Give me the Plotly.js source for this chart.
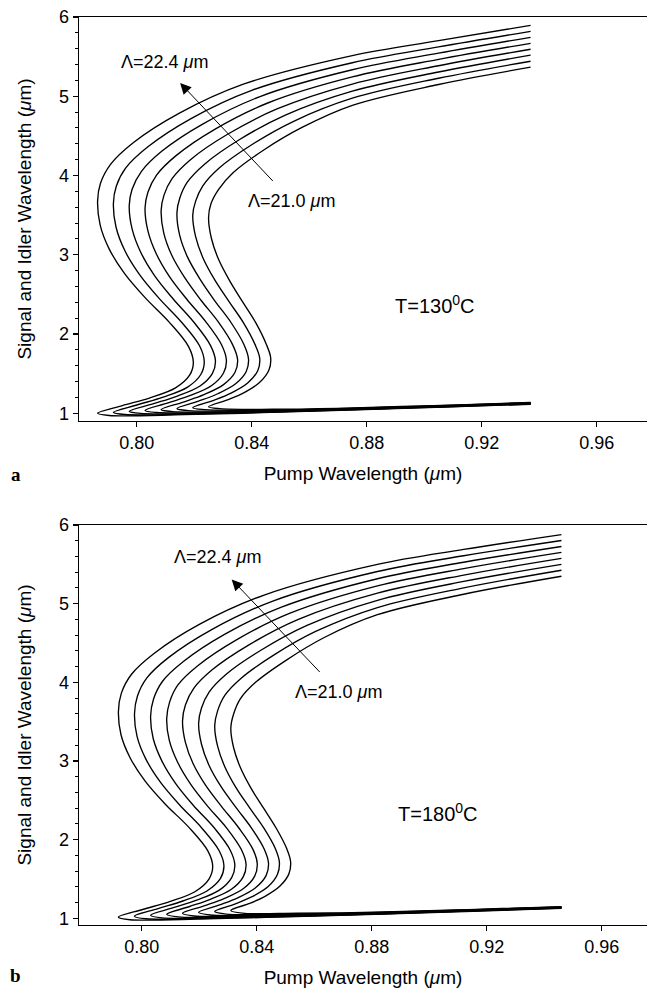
<!DOCTYPE html>
<html>
<head>
<meta charset="utf-8">
<script src="https://cdn.plot.ly/plotly-3.0.1.min.js"></script>
<style>html,body{margin:0;padding:0;background:#fff;}#chart{width:647px;height:989px;}</style>
</head>
<body>
<div id="chart"></div>
<script>
// Grating periods (µm), outer curve first
const periods = ['22.4', '22.2', '22.0', '21.8', '21.6', '21.4', '21.2', '21.0'];

// Panel a (T = 130 °C): pump wavelength (x) and signal/idler wavelength (y)
const pumpA = [
  [0.937,0.905,0.875,0.8371,0.8147,0.7989,0.7909,0.7874,0.7864,0.7873,0.7905,0.7958,0.8030,0.8113,0.8180,0.8197,0.8184,0.8135,0.8044,0.7950,0.7864,0.7904,0.8165,0.8466,0.8768,0.9069,0.937],
  [0.937,0.905,0.875,0.8400,0.8189,0.8039,0.7962,0.7929,0.7919,0.7928,0.7959,0.8010,0.8078,0.8156,0.8219,0.8235,0.8223,0.8177,0.8092,0.8003,0.7919,0.7959,0.8209,0.8499,0.8790,0.9080,0.937],
  [0.937,0.905,0.875,0.8429,0.8231,0.8088,0.8016,0.7984,0.7974,0.7984,0.8014,0.8062,0.8127,0.8199,0.8257,0.8274,0.8263,0.8219,0.8139,0.8056,0.7974,0.8014,0.8253,0.8532,0.8812,0.9091,0.937],
  [0.937,0.905,0.875,0.8458,0.8273,0.8138,0.8069,0.8039,0.8029,0.8039,0.8068,0.8114,0.8175,0.8242,0.8296,0.8312,0.8302,0.8261,0.8187,0.8109,0.8029,0.8069,0.8297,0.8565,0.8834,0.9102,0.937],
  [0.937,0.905,0.875,0.8488,0.8316,0.8187,0.8123,0.8095,0.8085,0.8094,0.8122,0.8167,0.8223,0.8285,0.8334,0.8351,0.8342,0.8302,0.8234,0.8162,0.8085,0.8125,0.8342,0.8599,0.8856,0.9113,0.937],
  [0.937,0.905,0.875,0.8517,0.8358,0.8237,0.8176,0.8150,0.8140,0.8149,0.8176,0.8219,0.8271,0.8328,0.8373,0.8389,0.8381,0.8344,0.8282,0.8215,0.8140,0.8180,0.8386,0.8632,0.8878,0.9124,0.937],
  [0.937,0.905,0.875,0.8546,0.8400,0.8286,0.8230,0.8205,0.8195,0.8205,0.8231,0.8271,0.8320,0.8371,0.8411,0.8428,0.8421,0.8386,0.8330,0.8268,0.8195,0.8235,0.8430,0.8665,0.8900,0.9135,0.937],
  [0.937,0.905,0.875,0.8575,0.8442,0.8336,0.8285,0.8258,0.8250,0.8260,0.8285,0.8323,0.8368,0.8414,0.8450,0.8466,0.8460,0.8428,0.8377,0.8321,0.8250,0.8290,0.8474,0.8698,0.8922,0.9146,0.937]
];
const waveA = [
  [5.894,5.702,5.513,5.152,4.784,4.416,4.140,3.901,3.680,3.374,3.068,2.762,2.456,2.150,1.844,1.640,1.480,1.320,1.192,1.096,1.000,0.972,0.982,1.010,1.042,1.078,1.114],
  [5.819,5.623,5.423,5.074,4.718,4.362,4.095,3.864,3.650,3.350,3.050,2.749,2.449,2.149,1.849,1.649,1.489,1.330,1.203,1.107,1.011,0.984,0.992,1.017,1.048,1.082,1.117],
  [5.743,5.544,5.334,4.996,4.652,4.308,4.050,3.826,3.620,3.326,3.031,2.737,2.442,2.148,1.853,1.657,1.499,1.340,1.214,1.118,1.023,0.997,1.001,1.025,1.054,1.087,1.120],
  [5.668,5.465,5.244,4.918,4.586,4.254,4.005,3.789,3.590,3.301,3.013,2.724,2.435,2.147,1.858,1.666,1.508,1.350,1.224,1.130,1.034,1.009,1.011,1.032,1.060,1.091,1.123],
  [5.593,5.385,5.154,4.840,4.520,4.200,3.960,3.752,3.560,3.277,2.994,2.711,2.429,2.146,1.863,1.674,1.517,1.361,1.235,1.141,1.046,1.021,1.021,1.039,1.067,1.095,1.126],
  [5.518,5.306,5.064,4.762,4.454,4.146,3.915,3.715,3.530,3.253,2.976,2.699,2.422,2.145,1.868,1.683,1.527,1.371,1.246,1.152,1.058,1.033,1.031,1.046,1.073,1.099,1.129],
  [5.442,5.227,4.975,4.684,4.388,4.092,3.870,3.677,3.500,3.229,2.957,2.686,2.415,2.144,1.872,1.691,1.536,1.381,1.257,1.163,1.070,1.046,1.040,1.054,1.079,1.104,1.132],
  [5.367,5.148,4.885,4.606,4.322,4.038,3.825,3.640,3.470,3.205,2.939,2.674,2.408,2.143,1.877,1.700,1.546,1.391,1.267,1.175,1.082,1.058,1.050,1.061,1.085,1.108,1.135]
];

// Panel b (T = 180 °C)
const pumpB = [
  [0.946,0.912,0.882,0.8426,0.8202,0.8044,0.7964,0.7929,0.7919,0.7928,0.7960,0.8012,0.8083,0.8165,0.8230,0.8247,0.8234,0.8185,0.8095,0.8003,0.7919,0.7959,0.8227,0.8535,0.8843,0.9151,0.946],
  [0.946,0.912,0.882,0.8456,0.8245,0.8094,0.8018,0.7985,0.7975,0.7984,0.8015,0.8065,0.8132,0.8208,0.8269,0.8286,0.8274,0.8227,0.8143,0.8057,0.7975,0.8015,0.8272,0.8569,0.8865,0.9162,0.946],
  [0.946,0.912,0.882,0.8486,0.8288,0.8145,0.8072,0.8041,0.8031,0.8040,0.8070,0.8117,0.8180,0.8252,0.8308,0.8324,0.8313,0.8270,0.8191,0.8110,0.8031,0.8071,0.8316,0.8602,0.8888,0.9174,0.946],
  [0.946,0.912,0.882,0.8516,0.8331,0.8195,0.8126,0.8097,0.8087,0.8096,0.8125,0.8170,0.8229,0.8295,0.8347,0.8363,0.8353,0.8312,0.8239,0.8164,0.8087,0.8127,0.8361,0.8636,0.8910,0.9185,0.946],
  [0.946,0.912,0.882,0.8545,0.8373,0.8245,0.8181,0.8152,0.8142,0.8152,0.8179,0.8222,0.8278,0.8338,0.8387,0.8402,0.8393,0.8354,0.8288,0.8217,0.8142,0.8182,0.8406,0.8669,0.8933,0.9196,0.946],
  [0.946,0.912,0.882,0.8575,0.8416,0.8295,0.8235,0.8208,0.8198,0.8208,0.8234,0.8275,0.8327,0.8382,0.8426,0.8441,0.8433,0.8396,0.8336,0.8271,0.8198,0.8238,0.8451,0.8703,0.8955,0.9207,0.946],
  [0.946,0.912,0.882,0.8605,0.8459,0.8346,0.8289,0.8264,0.8254,0.8264,0.8289,0.8327,0.8375,0.8425,0.8465,0.8479,0.8472,0.8439,0.8384,0.8324,0.8254,0.8294,0.8495,0.8736,0.8978,0.9219,0.946],
  [0.946,0.912,0.882,0.8635,0.8502,0.8396,0.8343,0.8320,0.8310,0.8320,0.8344,0.8380,0.8424,0.8468,0.8504,0.8518,0.8512,0.8481,0.8432,0.8378,0.8310,0.8350,0.8540,0.8770,0.9000,0.9230,0.946]
];
const waveB = [
  [5.879,5.690,5.500,5.110,4.740,4.370,4.100,3.860,3.630,3.334,3.039,2.744,2.448,2.153,1.857,1.660,1.499,1.338,1.209,1.112,1.015,0.982,0.994,1.021,1.053,1.089,1.127],
  [5.803,5.609,5.409,5.033,4.674,4.317,4.056,3.823,3.600,3.310,3.021,2.731,2.441,2.152,1.862,1.669,1.508,1.348,1.220,1.123,1.027,0.994,1.004,1.029,1.059,1.094,1.130],
  [5.727,5.527,5.317,4.956,4.609,4.264,4.011,3.786,3.570,3.286,3.002,2.719,2.434,2.151,1.866,1.677,1.518,1.359,1.231,1.135,1.039,1.006,1.014,1.036,1.065,1.098,1.133],
  [5.652,5.446,5.226,4.879,4.543,4.211,3.967,3.749,3.540,3.262,2.984,2.706,2.427,2.150,1.871,1.686,1.527,1.369,1.242,1.147,1.051,1.018,1.024,1.044,1.071,1.103,1.136],
  [5.576,5.364,5.134,4.801,4.477,4.159,3.923,3.711,3.510,3.237,2.965,2.693,2.421,2.148,1.876,1.694,1.537,1.379,1.253,1.158,1.064,1.030,1.034,1.051,1.078,1.108,1.140],
  [5.500,5.283,5.043,4.724,4.411,4.106,3.879,3.674,3.480,3.213,2.947,2.680,2.414,2.147,1.881,1.703,1.546,1.389,1.264,1.170,1.076,1.042,1.044,1.059,1.084,1.113,1.143],
  [5.425,5.201,4.951,4.647,4.346,4.053,3.834,3.637,3.450,3.189,2.928,2.668,2.407,2.146,1.885,1.711,1.556,1.400,1.275,1.181,1.088,1.054,1.054,1.066,1.090,1.117,1.146],
  [5.349,5.120,4.860,4.570,4.280,4.000,3.790,3.600,3.420,3.165,2.910,2.655,2.400,2.145,1.890,1.720,1.565,1.410,1.286,1.193,1.100,1.066,1.064,1.074,1.096,1.122,1.149]
];

const xTickVals = [0.80, 0.84, 0.88, 0.92, 0.96];
const xTickText = ['0.80', '0.84', '0.88', '0.92', '0.96'];
const yTickVals = [1, 2, 3, 4, 5, 6];
const yTickText = ['1', '2', '3', '4', '5', '6'];
const temps = ['T=130<sup>0</sup>C', 'T=180<sup>0</sup>C'];

const FONT = 'Liberation Sans, Arial, Helvetica, sans-serif';
const traces = [];
function addPanel(px, py, xa, ya) {
  for (let i = 0; i < periods.length; i++) {
    traces.push({
      x: px[i], y: py[i], xaxis: xa, yaxis: ya,
      type: 'scatter', mode: 'lines', name: 'Λ=' + periods[i] + ' μm',
      line: {color: '#000', width: 1.35, shape: 'spline', smoothing: 1},
      hoverinfo: 'skip', showlegend: false
    });
  }
}
addPanel(pumpA, waveA, 'x', 'y');
addPanel(pumpB, waveB, 'x2', 'y2');

function xAxis(range, anchor) {
  return {
    domain: [0, 1], anchor: anchor, range: range,
    tickvals: xTickVals, ticktext: xTickText,
    ticks: 'outside', ticklen: 5, tickwidth: 1.2, tickcolor: '#000',
    showline: true, linewidth: 1.3, linecolor: '#000', mirror: true,
    showgrid: false, zeroline: false,
    tickfont: {family: FONT, size: 18, color: '#000'},
    title: {text: 'Pump Wavelength (<i>μ</i>m)', font: {family: FONT, size: 19, color: '#000'}, standoff: 14}
  };
}
function yAxis(range, domain, anchor) {
  return {
    domain: domain, anchor: anchor, range: range,
    tickvals: yTickVals, ticktext: yTickText,
    ticks: 'outside', ticklen: 5, tickwidth: 1.2, tickcolor: '#000',
    minor: {dtick: 0.2, tick0: 0, ticks: 'outside', ticklen: 3, tickwidth: 1, tickcolor: '#000', showgrid: false},
    showline: true, linewidth: 1.3, linecolor: '#000', mirror: false,
    showgrid: false, zeroline: false,
    tickfont: {family: FONT, size: 18, color: '#000'},
    title: {text: 'Signal and Idler Wavelength (<i>μ</i>m)', font: {family: FONT, size: 19, color: '#000'}, standoff: 22}
  };
}

const txt = (size) => ({family: FONT, size: size || 18, color: '#000'});
const annotations = [
  // panel a: label of the 21.0 µm curve, with the arrow pointing towards the 22.4 µm curve
  {xref: 'x', yref: 'y', axref: 'x', ayref: 'y', x: 0.8151, y: 5.168, ax: 0.8540, ay: 3.675,
   text: 'Λ=' + periods[7] + ' <i>μ</i>m', font: txt(), showarrow: true,
   arrowhead: 2, arrowsize: 2.2, arrowwidth: 1, arrowcolor: '#000', startstandoff: 12},
  {xref: 'x', yref: 'y', x: 0.8097, y: 5.434, text: 'Λ=' + periods[0] + ' <i>μ</i>m', showarrow: false, font: txt()},
  {xref: 'x', yref: 'y', x: 0.9038, y: 2.371, text: temps[0], showarrow: false, font: txt(20)},
  // panel b
  {xref: 'x2', yref: 'y2', axref: 'x2', ayref: 'y2', x: 0.8313, y: 5.308, ax: 0.8686, ay: 3.875,
   text: 'Λ=' + periods[7] + ' <i>μ</i>m', font: txt(), showarrow: true,
   arrowhead: 2, arrowsize: 2.2, arrowwidth: 1, arrowcolor: '#000', startstandoff: 12},
  {xref: 'x2', yref: 'y2', x: 0.8265, y: 5.591, text: 'Λ=' + periods[0] + ' <i>μ</i>m', showarrow: false, font: txt()},
  {xref: 'x2', yref: 'y2', x: 0.9032, y: 2.351, text: temps[1], showarrow: false, font: txt(20)},
  // panel letters
  {xref: 'paper', yref: 'paper', x: -0.111, y: 0.4956, text: '<b>a</b>', showarrow: false, xanchor: 'center', yanchor: 'middle', font: {family: 'Liberation Serif, Times New Roman, serif', size: 19, color: '#000'}},
  {xref: 'paper', yref: 'paper', x: -0.111, y: -0.0551, text: '<b>b</b>', showarrow: false, xanchor: 'center', yanchor: 'middle', font: {family: 'Liberation Serif, Times New Roman, serif', size: 19, color: '#000'}}
];

const layout = {
  width: 647, height: 989,
  margin: {l: 79, r: 0, t: 17, b: 64},
  paper_bgcolor: '#fff', plot_bgcolor: '#fff',
  showlegend: false,
  xaxis: xAxis([0.77993, 0.9775], 'y'),
  yaxis: yAxis([0.9025, 6.0], [0.5551, 1], 'x'),
  xaxis2: xAxis([0.77819, 0.97576], 'y2'),
  yaxis2: yAxis([0.915, 6.0], [0, 0.4405], 'x2'),
  annotations: annotations
};

Plotly.newPlot('chart', traces, layout, {staticPlot: true, displayModeBar: false});
</script>
</body>
</html>
